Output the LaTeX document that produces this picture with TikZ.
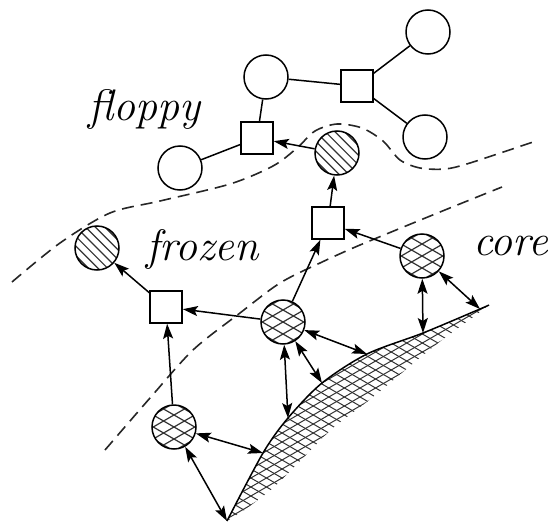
\documentclass[tikz,border=0pt]{standalone}
\usetikzlibrary{positioning, arrows.meta}
\colorlet{ink}{black}
\tikzset{
  site/.style    ={draw=ink, circle, minimum size=44pt, inner sep=0pt,
                   fill=white, line width=1.5pt},
  hatchline/.style={ink!80, line width=1.2pt},
  Lfree/.style   ={site},
  Lhatch/.style  ={site, path picture={
                     \foreach \k in {-6,...,6}
                       \draw[hatchline, shift={(path picture bounding box.center)}]
                         (\k*9.6-40, -40) -- (\k*9.6+40, 40);
                   }},
  Lmesh/.style   ={site, path picture={
                     \foreach \k in {-4,...,4} {
                       \draw[hatchline, shift={(path picture bounding box.center)}]
                         (-30, \k*12+17.3) -- (30, \k*12-17.3);
                       \draw[hatchline, shift={(path picture bounding box.center)}]
                         (-30, \k*12-17.3) -- (30, \k*12+17.3);
                     }
                   }},
  Lbox/.style    ={draw=ink, rectangle, minimum size=32pt, inner sep=0pt,
                   fill=white, line width=1.5pt},
  bond/.style    ={-, ink, line width=1.5pt},
  push/.style    ={-{Stealth[length=15pt, width=10pt, inset=3pt]}, ink,
                   line width=1.5pt},
  contact/.style ={{Stealth[length=15pt, width=10pt, inset=3pt]}-{Stealth[length=15pt, width=10pt, inset=3pt]},
                   ink, line width=1.5pt},
  border/.style  ={ink!85, line width=1.6pt, dash pattern=on 12pt off 7pt},
  region/.style  ={font=\fontsize{44}{50}\selectfont\itshape,
                   inner sep=0pt, anchor=base west},
}

\begin{document}
\begin{tikzpicture}[x=1pt, y=-1pt]
\useasboundingbox (0,0) rectangle (557,522);

% borders between the parts
\draw[border] plot[smooth] coordinates {(12,282) (60,243) (110,213) (160,201)
  (230,184) (273,166) (297,148) (315,131) (337,124) (362,128) (383,141)
  (400,160) (420,168) (445,169) (470,163) (533,142)};
\draw[border] plot[smooth] coordinates {(105,450) (150,398) (193,350)
  (240,313) (280,283) (320,263) (360,245) (440,212) (502,187)};

% wall
\coordinate (w0) at (227,521);
\coordinate (w1) at (263,453);
\coordinate (w2) at (288,418);
\coordinate (w3) at (322,383);
\coordinate (w4) at (367,354);
\coordinate (w5) at (423,333);
\coordinate (w6) at (480,309);
\coordinate (w7) at (489,305);
\begin{scope}
  \clip plot[smooth] coordinates {(w0) (w1) (w2) (w3) (w4) (w5) (w6) (w7)}
    -- plot[smooth] coordinates {(472,318) (433,347) (373,397) (333,428)
    (300,461) (273,488) (243,511)} -- cycle;
  \foreach \k in {-22,...,22} {
    \draw[hatchline, line width=1pt, shift={(360,415)}]
      (-150, \k*9+86.6) -- (150, \k*9-86.6);
    \draw[hatchline, line width=1pt, shift={(360,415)}]
      (-150, \k*9-86.6) -- (150, \k*9+86.6);
  }
\end{scope}
\draw[ink, line width=1.5pt] plot[smooth] coordinates {(w0) (w1) (w2) (w3)
  (w4) (w5) (w6) (w7)};

% floppy
\node[region] (tF) at (88,120) {floppy};
\node[Lfree] (fA) at (266, 77) {};
\node[Lfree] (fB) at (428, 32) {};
\node[Lfree] (fC) at (425,137) {};
\node[Lfree] (fD) at (180,168) {};
\node[Lbox]  (bA) at (357, 86) {};
\node[Lbox]  (bB) at (257,138) {};
\node[Lhatch] (hA) at (337,153) {};
\draw[bond] (fA) -- (bA);
\draw[bond] (bA) -- (fB);
\draw[bond] (bA) -- (fC);
\draw[bond] (fA) -- (bB);
\draw[bond] (bB) -- (fD);
\draw[push] (hA) -- (bB);

% frozen
\node[region] (tZ) at (146,260) {frozen};
\node[Lhatch] (hB) at ( 97,248) {};
\node[Lbox]   (bC) at (166,307) {};
\node[Lbox]   (bD) at (328,223) {};
\draw[push] (bD) -- (hA);
\draw[push] (bC) -- (hB);

% core
\node[region] (tC) at (473,255) {core};
\node[Lmesh] (mA) at (283,322) {};
\node[Lmesh] (mB) at (422,256) {};
\node[Lmesh] (mC) at (174,427) {};
\draw[push] (mA) -- (bC);
\draw[push] (mA) -- (bD);
\draw[push] (mB) -- (bD);
\draw[push] (mC) -- (bC);
\draw[contact] (mA) -- (w2);
\draw[contact] (mA) -- (w3);
\draw[contact] (mA) -- (w4);
\draw[contact] (mB) -- (w5);
\draw[contact] (mB) -- (w6);
\draw[contact] (mC) -- (w1);
\draw[contact] (mC) -- (w0);

\end{tikzpicture}
\end{document}
